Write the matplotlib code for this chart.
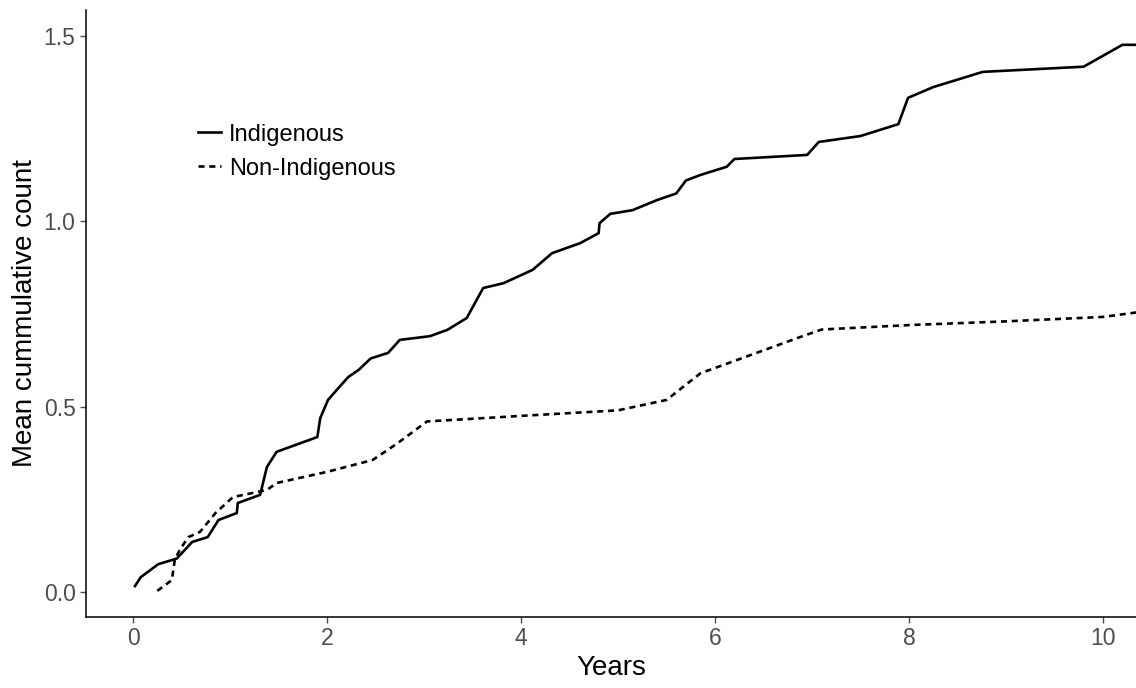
import numpy as np
import matplotlib.pyplot as plt

plt.rcParams['font.family'] = ['Liberation Sans', 'DejaVu Sans']

# Indigenous (solid)
years_ind = [0.02, 0.08, 0.26, 0.45, 0.61, 0.77, 0.88, 1.07, 1.08, 1.31, 1.38, 1.48,
             1.90, 1.93, 2.01, 2.10, 2.22, 2.33, 2.45, 2.63, 2.75, 3.06, 3.24, 3.44,
             3.61, 3.82, 4.12, 4.32, 4.61, 4.80, 4.81, 4.92, 5.15, 5.40, 5.60, 5.70,
             5.85, 6.12, 6.20, 6.95, 7.07, 7.50, 7.89, 7.99, 8.25, 8.76, 9.80, 10.20,
             10.40]
mcc_ind = [0.016, 0.040, 0.075, 0.090, 0.135, 0.148, 0.194, 0.213, 0.240, 0.262,
           0.337, 0.378, 0.418, 0.469, 0.518, 0.545, 0.580, 0.600, 0.630, 0.645,
           0.680, 0.690, 0.707, 0.739, 0.820, 0.833, 0.869, 0.914, 0.941, 0.968,
           0.995, 1.020, 1.030, 1.057, 1.075, 1.110, 1.125, 1.147, 1.168, 1.179,
           1.214, 1.230, 1.262, 1.333, 1.362, 1.403, 1.417, 1.476, 1.476]

# Non-Indigenous (dashed)
years_non = [0.25, 0.40, 0.43, 0.48, 0.57, 0.69, 0.85, 1.03, 1.38, 1.48, 2.00, 2.47,
             2.55, 2.72, 3.03, 4.00, 5.00, 5.50, 5.85, 6.88, 7.10, 8.00, 9.00, 10.00,
             10.40]
mcc_non = [0.003, 0.032, 0.086, 0.113, 0.148, 0.162, 0.213, 0.256, 0.275, 0.294,
           0.324, 0.356, 0.370, 0.400, 0.460, 0.475, 0.490, 0.518, 0.590, 0.688,
           0.708, 0.720, 0.730, 0.742, 0.756]

fig = plt.figure(figsize=(11.36, 6.88), dpi=100)
ax = fig.add_axes([0.0757, 0.1032, 0.9243, 0.8823])

ax.plot(years_ind, mcc_ind, color='black', linewidth=1.9, linestyle='-', label='Indigenous')
ax.plot(years_non, mcc_non, color='black', linewidth=1.9, dashes=(2.3, 1.8), label='Non-Indigenous')

ax.set_xlim(-0.485, 10.34)
ax.set_ylim(-0.0675, 1.57)
ax.set_xticks([0, 2, 4, 6, 8, 10])
ax.set_yticks([0.0, 0.5, 1.0, 1.5])
ax.set_yticklabels(['0.0', '0.5', '1.0', '1.5'])

ax.spines['top'].set_visible(False)
ax.spines['right'].set_visible(False)
for s in ['left', 'bottom']:
    ax.spines[s].set_linewidth(1.1)
ax.tick_params(axis='both', colors='#4D4D4D', labelsize=16.5, length=4, width=1)

ax.set_xlabel('Years', fontsize=20, labelpad=3)
ax.set_ylabel('Mean cummulative count', fontsize=20, labelpad=4)

ax.legend(loc='upper left', bbox_to_anchor=(0.095, 0.832), frameon=False, fontsize=17,
          handlelength=1.0, handletextpad=0.34, labelspacing=0.5, borderpad=0)

fig.savefig('out.png', dpi=100)
